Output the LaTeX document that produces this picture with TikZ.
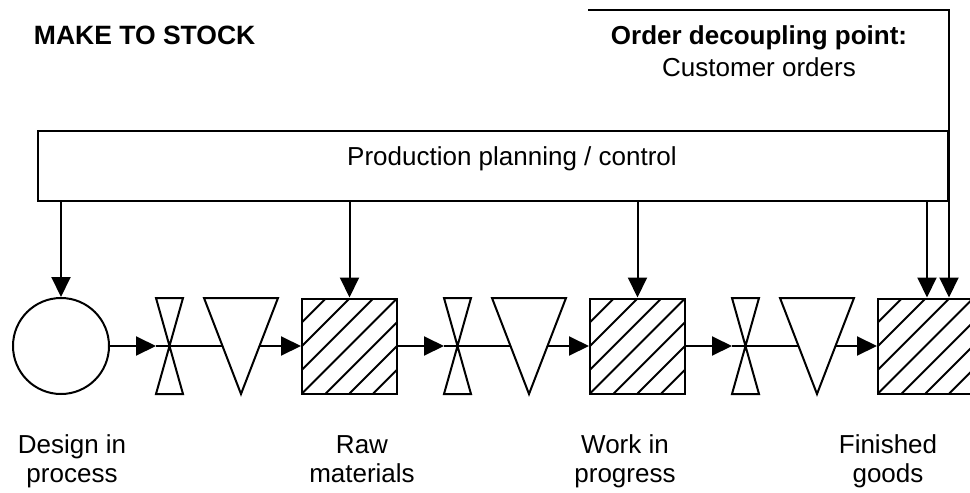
\documentclass[tikz,border=0pt]{standalone}
\usepackage{fontspec}
\setmainfont{Liberation Sans}
\usetikzlibrary{arrows.meta,calc}
\begin{document}
\begin{tikzpicture}[x=1pt,y=-1pt,line width=2pt,
  arr/.style={-{Triangle[length=20pt,width=19pt]}},
  lbl/.style={font=\fontsize{26}{29}\selectfont, align=center, anchor=base, inner sep=0pt},
  title/.style={font=\bfseries\fontsize{26.5}{29}\selectfont, anchor=base west, inner sep=0pt},
  stock/.style={draw, minimum size=95pt, inner sep=0pt,
    path picture={\foreach \k in {-3,...,3}{\draw[line width=2pt] ($(path picture bounding box.south west)+(\k*23.75,0)$) -- +(95pt,95pt);}}},
  valve/.style={minimum width=25pt, minimum height=94pt, inner sep=0pt},
  buffer/.style={minimum width=72pt, minimum height=94pt, inner sep=0pt},
  planbox/.style={draw, minimum width=910pt, minimum height=70pt, inner sep=0pt},
  design/.style={draw, circle, minimum size=96pt, inner sep=0pt}
]
\useasboundingbox (0,0) rectangle (970,493);

% nodes
\node[planbox] (ppc) at (493,166) {};
\node[lbl] (ppct) at (512,165) {Production planning / control};
\node[design] (dip) at (61,346) {};
\node[valve] (b1) at (169.5,346) {};
\node[buffer] (t1) at (241,346) {};
\node[stock] (s1) at (349.5,346) {};
\node[valve] (b2) at (457.5,346) {};
\node[buffer] (t2) at (529,346) {};
\node[stock] (s3) at (637.5,346) {};
\node[valve] (b3) at (745.5,346) {};
\node[buffer] (t3) at (817,346) {};
\node[stock] (s4) at (925.5,346) {};

% flow line
\draw[arr] (dip.east) -- (b1.west);
\draw[arr] (b1.west) -- (s1.west);
\draw[arr] (s1.east) -- (b2.west);
\draw[arr] (b2.west) -- (s3.west);
\draw[arr] (s3.east) -- (b3.west);
\draw[arr] (b3.west) -- (s4.west);

% buffers (triangles) and valves (bowties)
\foreach \t in {t1,t2,t3}{
  \draw[fill=white] (\t.north west) -- (\t.north east) -- (\t.south) -- cycle;
}
\foreach \b in {b1,b2,b3}{
  \draw (\b.north west) -- (\b.north east) -- (\b.south west) -- (\b.south east) -- cycle;
}

% control arrows
\draw[arr] (ppc.south -| dip.north) -- (dip.north);
\draw[arr] (ppc.south -| s1.north) -- (s1.north);
\draw[arr] (ppc.south -| s3.north) -- (s3.north);
\coordinate (s4in) at ($(s4.north)+(1.5,0)$);
\draw[arr] (ppc.south -| s4in) -- (s4in);
\coordinate (co) at (588,10);
\coordinate (s4co) at ($(s4.north)+(23.5,0)$);
\draw[arr] (co) -| (s4co);

% texts
\node[title] (mts) at (33,44) {MAKE TO STOCK};
\node[lbl, font=\fontsize{26}{32}\selectfont] (odp) at (759,76) {\textbf{Order decoupling point:}\\Customer orders};
\node[lbl] (l1) at (72,482) {Design in\\process};
\node[lbl] (l2) at (362,482) {Raw\\materials};
\node[lbl] (l3) at (625,482) {Work in\\progress};
\node[lbl] (l4) at (888,482) {Finished\\goods};
\end{tikzpicture}
\end{document}
